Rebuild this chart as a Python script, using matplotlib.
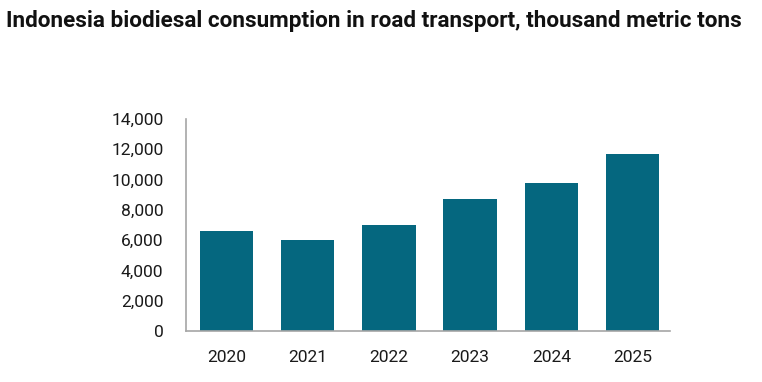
import matplotlib
matplotlib.use("Agg")
import matplotlib.pyplot as plt
from matplotlib.ticker import FuncFormatter

years = ["2020", "2021", "2022", "2023", "2024", "2025"]
consumption = [6600, 6000, 7000, 8700, 9800, 11700]
yticks = [0, 2000, 4000, 6000, 8000, 10000, 12000, 14000]

plt.rcParams['font.family'] = ['Roboto', 'DejaVu Sans']

fig = plt.figure(figsize=(7.62, 3.82), dpi=100)
ax = fig.add_axes([0.2437, 0.1335, 0.6356, 0.555])
x = range(len(years))
ax.bar(x, consumption, width=0.66, color='#05677F')
ax.set_xlim(-0.5, 5.46)
ax.set_ylim(0, 14000)
ax.set_xticks(list(x))
ax.set_xticklabels(years)
ax.set_yticks(yticks)
ax.yaxis.set_major_formatter(FuncFormatter(lambda v, p: f"{int(v):,}"))
for s in ['top', 'right']:
    ax.spines[s].set_visible(False)
for s in ['left', 'bottom']:
    ax.spines[s].set_color('#a6a6a6')
    ax.spines[s].set_linewidth(1.2)
ax.tick_params(axis='both', length=0, labelsize=12.5, colors='#1a1a1a')
ax.tick_params(axis='y', pad=16)
ax.tick_params(axis='x', pad=14)

fig.text(0.008, 0.945, "Indonesia biodiesal consumption in road transport, thousand metric tons",
         fontsize=16.2, fontweight='bold', color='#111111', va='center', ha='left')

fig.savefig("out.png", dpi=100)
